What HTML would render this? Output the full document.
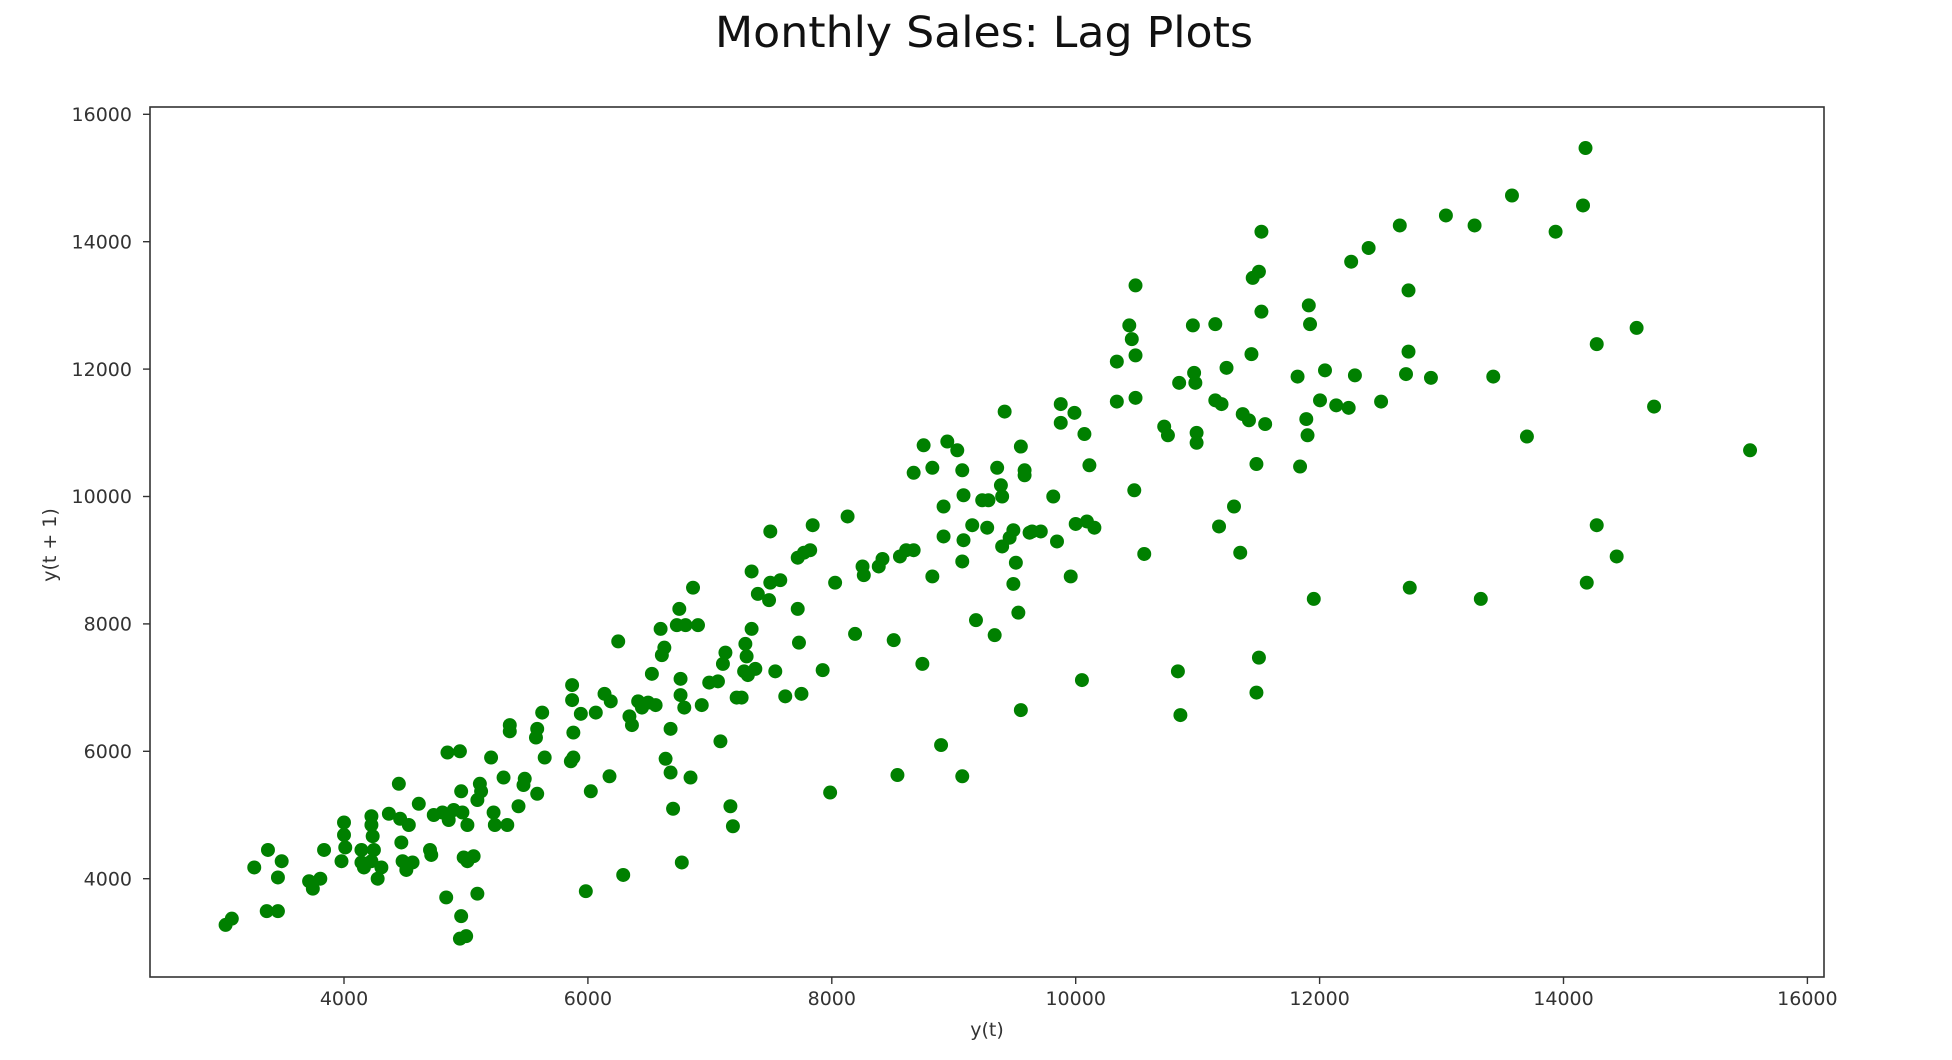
<!DOCTYPE html>
<html><head><meta charset="utf-8"><style>
html,body{margin:0;padding:0;background:#fff;}
svg{display:block;font-family:"DejaVu Sans","Liberation Sans",sans-serif;}
</style></head><body>
<svg width="1952" height="1060" viewBox="0 0 1952 1060" xmlns="http://www.w3.org/2000/svg">
<text x="984" y="47" font-size="43" text-anchor="middle" fill="#111" textLength="538" lengthAdjust="spacingAndGlyphs">Monthly Sales: Lag Plots</text>
<g transform="translate(344,878.7) scale(1.2465,1.249) translate(-276,-703)" fill="#008000">
<circle cx="181" cy="740" r="5.6"/><circle cx="186" cy="735" r="5.6"/><circle cx="204" cy="694" r="5.6"/><circle cx="215" cy="680" r="5.6"/><circle cx="226" cy="689" r="5.6"/><circle cx="223" cy="702" r="5.6"/><circle cx="214" cy="729" r="5.6"/><circle cx="223" cy="729" r="5.6"/><circle cx="248" cy="705" r="5.6"/><circle cx="251" cy="711" r="5.6"/><circle cx="257" cy="703" r="5.6"/><circle cx="260" cy="680" r="5.6"/><circle cx="276" cy="658" r="5.6"/><circle cx="276" cy="668" r="5.6"/><circle cx="277" cy="678" r="5.6"/><circle cx="274" cy="689" r="5.6"/><circle cx="290" cy="680" r="5.6"/><circle cx="290" cy="690" r="5.6"/><circle cx="292" cy="694" r="5.6"/><circle cx="298" cy="653" r="5.6"/><circle cx="298" cy="660" r="5.6"/><circle cx="299" cy="669" r="5.6"/><circle cx="303" cy="703" r="5.6"/><circle cx="306" cy="694" r="5.6"/><circle cx="298" cy="689" r="5.6"/><circle cx="300" cy="680" r="5.6"/><circle cx="312" cy="651" r="5.6"/><circle cx="320" cy="627" r="5.6"/><circle cx="321" cy="655" r="5.6"/><circle cx="322" cy="674" r="5.6"/><circle cx="323" cy="689" r="5.6"/><circle cx="326" cy="696" r="5.6"/><circle cx="331" cy="690" r="5.6"/><circle cx="328" cy="660" r="5.6"/><circle cx="336" cy="643" r="5.6"/><circle cx="345" cy="680" r="5.6"/><circle cx="346" cy="684" r="5.6"/><circle cx="348" cy="652" r="5.6"/><circle cx="355" cy="650" r="5.6"/><circle cx="359" cy="602" r="5.6"/><circle cx="360" cy="656" r="5.6"/><circle cx="364" cy="648" r="5.6"/><circle cx="369" cy="601" r="5.6"/><circle cx="370" cy="633" r="5.6"/><circle cx="371" cy="650" r="5.6"/><circle cx="375" cy="660" r="5.6"/><circle cx="375" cy="689" r="5.6"/><circle cx="372" cy="686" r="5.6"/><circle cx="380" cy="685" r="5.6"/><circle cx="383" cy="640" r="5.6"/><circle cx="385" cy="627" r="5.6"/><circle cx="386" cy="633" r="5.6"/><circle cx="394" cy="606" r="5.6"/><circle cx="396" cy="650" r="5.6"/><circle cx="397" cy="660" r="5.6"/><circle cx="404" cy="622" r="5.6"/><circle cx="407" cy="660" r="5.6"/><circle cx="409" cy="580" r="5.6"/><circle cx="409" cy="585" r="5.6"/><circle cx="416" cy="645" r="5.6"/><circle cx="420" cy="628" r="5.6"/><circle cx="421" cy="623" r="5.6"/><circle cx="430" cy="590" r="5.6"/><circle cx="431" cy="583" r="5.6"/><circle cx="431" cy="635" r="5.6"/><circle cx="435" cy="570" r="5.6"/><circle cx="437" cy="606" r="5.6"/><circle cx="358" cy="718" r="5.6"/><circle cx="370" cy="733" r="5.6"/><circle cx="369" cy="751" r="5.6"/><circle cx="374" cy="749" r="5.6"/><circle cx="383" cy="715" r="5.6"/><circle cx="459" cy="548" r="5.6"/><circle cx="459" cy="560" r="5.6"/><circle cx="460" cy="586" r="5.6"/><circle cx="458" cy="609" r="5.6"/><circle cx="460" cy="606" r="5.6"/><circle cx="466" cy="571" r="5.6"/><circle cx="470" cy="713" r="5.6"/><circle cx="474" cy="633" r="5.6"/><circle cx="478" cy="570" r="5.6"/><circle cx="485" cy="555" r="5.6"/><circle cx="490" cy="561" r="5.6"/><circle cx="489" cy="621" r="5.6"/><circle cx="496" cy="513" r="5.6"/><circle cx="500" cy="700" r="5.6"/><circle cx="505" cy="573" r="5.6"/><circle cx="507" cy="580" r="5.6"/><circle cx="512" cy="561" r="5.6"/><circle cx="515" cy="566" r="5.6"/><circle cx="520" cy="562" r="5.6"/><circle cx="523" cy="539" r="5.6"/><circle cx="526" cy="564" r="5.6"/><circle cx="530" cy="503" r="5.6"/><circle cx="531" cy="524" r="5.6"/><circle cx="533" cy="518" r="5.6"/><circle cx="534" cy="607" r="5.6"/><circle cx="538" cy="583" r="5.6"/><circle cx="538" cy="618" r="5.6"/><circle cx="540" cy="647" r="5.6"/><circle cx="543" cy="500" r="5.6"/><circle cx="545" cy="487" r="5.6"/><circle cx="546" cy="556" r="5.6"/><circle cx="546" cy="543" r="5.6"/><circle cx="547" cy="690" r="5.6"/><circle cx="549" cy="566" r="5.6"/><circle cx="550" cy="500" r="5.6"/><circle cx="554" cy="622" r="5.6"/><circle cx="556" cy="470" r="5.6"/><circle cx="560" cy="500" r="5.6"/><circle cx="563" cy="564" r="5.6"/><circle cx="569" cy="546" r="5.6"/><circle cx="576" cy="545" r="5.6"/><circle cx="578" cy="593" r="5.6"/><circle cx="580" cy="531" r="5.6"/><circle cx="582" cy="522" r="5.6"/><circle cx="586" cy="645" r="5.6"/><circle cx="588" cy="661" r="5.6"/><circle cx="591" cy="558" r="5.6"/><circle cx="595" cy="558" r="5.6"/><circle cx="597" cy="537" r="5.6"/><circle cx="598" cy="515" r="5.6"/><circle cx="599" cy="525" r="5.6"/><circle cx="600" cy="540" r="5.6"/><circle cx="603" cy="503" r="5.6"/><circle cx="603" cy="457" r="5.6"/><circle cx="606" cy="535" r="5.6"/><circle cx="608" cy="475" r="5.6"/><circle cx="617" cy="480" r="5.6"/><circle cx="618" cy="466" r="5.6"/><circle cx="618" cy="425" r="5.6"/><circle cx="622" cy="537" r="5.6"/><circle cx="626" cy="464" r="5.6"/><circle cx="630" cy="557" r="5.6"/><circle cx="640" cy="446" r="5.6"/><circle cx="640" cy="487" r="5.6"/><circle cx="641" cy="514" r="5.6"/><circle cx="643" cy="555" r="5.6"/><circle cx="645" cy="442" r="5.6"/><circle cx="650" cy="440" r="5.6"/><circle cx="652" cy="420" r="5.6"/><circle cx="660" cy="536" r="5.6"/><circle cx="666" cy="634" r="5.6"/><circle cx="670" cy="466" r="5.6"/><circle cx="680" cy="413" r="5.6"/><circle cx="686" cy="507" r="5.6"/><circle cx="692" cy="453" r="5.6"/><circle cx="693" cy="460" r="5.6"/><circle cx="705" cy="453" r="5.6"/><circle cx="708" cy="447" r="5.6"/><circle cx="717" cy="512" r="5.6"/><circle cx="720" cy="620" r="5.6"/><circle cx="722" cy="445" r="5.6"/><circle cx="727" cy="440" r="5.6"/><circle cx="733" cy="440" r="5.6"/><circle cx="733" cy="378" r="5.6"/><circle cx="740" cy="531" r="5.6"/><circle cx="741" cy="356" r="5.6"/><circle cx="748" cy="374" r="5.6"/><circle cx="748" cy="461" r="5.6"/><circle cx="755" cy="596" r="5.6"/><circle cx="757" cy="405" r="5.6"/><circle cx="757" cy="429" r="5.6"/><circle cx="760" cy="353" r="5.6"/><circle cx="768" cy="360" r="5.6"/><circle cx="772" cy="376" r="5.6"/><circle cx="772" cy="621" r="5.6"/><circle cx="772" cy="449" r="5.6"/><circle cx="773" cy="432" r="5.6"/><circle cx="773" cy="396" r="5.6"/><circle cx="780" cy="420" r="5.6"/><circle cx="783" cy="496" r="5.6"/><circle cx="788" cy="400" r="5.6"/><circle cx="792" cy="422" r="5.6"/><circle cx="793" cy="400" r="5.6"/><circle cx="798" cy="508" r="5.6"/><circle cx="800" cy="374" r="5.6"/><circle cx="803" cy="388" r="5.6"/><circle cx="804" cy="397" r="5.6"/><circle cx="804" cy="437" r="5.6"/><circle cx="806" cy="329" r="5.6"/><circle cx="810" cy="430" r="5.6"/><circle cx="813" cy="424" r="5.6"/><circle cx="813" cy="467" r="5.6"/><circle cx="815" cy="450" r="5.6"/><circle cx="817" cy="490" r="5.6"/><circle cx="819" cy="357" r="5.6"/><circle cx="819" cy="568" r="5.6"/><circle cx="822" cy="376" r="5.6"/><circle cx="822" cy="380" r="5.6"/><circle cx="828" cy="425" r="5.6"/><circle cx="826" cy="426" r="5.6"/><circle cx="835" cy="425" r="5.6"/><circle cx="845" cy="397" r="5.6"/><circle cx="848" cy="433" r="5.6"/><circle cx="851" cy="323" r="5.6"/><circle cx="851" cy="338" r="5.6"/><circle cx="859" cy="461" r="5.6"/><circle cx="862" cy="330" r="5.6"/><circle cx="863" cy="419" r="5.6"/><circle cx="868" cy="544" r="5.6"/><circle cx="870" cy="347" r="5.6"/><circle cx="872" cy="417" r="5.6"/><circle cx="874" cy="372" r="5.6"/><circle cx="878" cy="422" r="5.6"/><circle cx="896" cy="289" r="5.6"/><circle cx="896" cy="321" r="5.6"/><circle cx="906" cy="260" r="5.6"/><circle cx="908" cy="271" r="5.6"/><circle cx="910" cy="392" r="5.6"/><circle cx="911" cy="284" r="5.6"/><circle cx="911" cy="318" r="5.6"/><circle cx="911" cy="228" r="5.6"/><circle cx="918" cy="443" r="5.6"/><circle cx="934" cy="341" r="5.6"/><circle cx="937" cy="348" r="5.6"/><circle cx="945" cy="537" r="5.6"/><circle cx="947" cy="572" r="5.6"/><circle cx="946" cy="306" r="5.6"/><circle cx="957" cy="260" r="5.6"/><circle cx="958" cy="298" r="5.6"/><circle cx="959" cy="306" r="5.6"/><circle cx="960" cy="346" r="5.6"/><circle cx="960" cy="354" r="5.6"/><circle cx="975" cy="259" r="5.6"/><circle cx="975" cy="320" r="5.6"/><circle cx="978" cy="421" r="5.6"/><circle cx="980" cy="323" r="5.6"/><circle cx="984" cy="294" r="5.6"/><circle cx="990" cy="405" r="5.6"/><circle cx="995" cy="442" r="5.6"/><circle cx="997" cy="331" r="5.6"/><circle cx="1002" cy="336" r="5.6"/><circle cx="1004" cy="283" r="5.6"/><circle cx="1005" cy="222" r="5.6"/><circle cx="1008" cy="371" r="5.6"/><circle cx="1010" cy="217" r="5.6"/><circle cx="1008" cy="554" r="5.6"/><circle cx="1010" cy="526" r="5.6"/><circle cx="1012" cy="249" r="5.6"/><circle cx="1012" cy="185" r="5.6"/><circle cx="1015" cy="339" r="5.6"/><circle cx="1041" cy="301" r="5.6"/><circle cx="1043" cy="373" r="5.6"/><circle cx="1048" cy="335" r="5.6"/><circle cx="1049" cy="348" r="5.6"/><circle cx="1050" cy="244" r="5.6"/><circle cx="1051" cy="259" r="5.6"/><circle cx="1054" cy="479" r="5.6"/><circle cx="1059" cy="320" r="5.6"/><circle cx="1063" cy="296" r="5.6"/><circle cx="1072" cy="324" r="5.6"/><circle cx="1082" cy="326" r="5.6"/><circle cx="1084" cy="209" r="5.6"/><circle cx="1087" cy="300" r="5.6"/><circle cx="1098" cy="198" r="5.6"/><circle cx="1108" cy="321" r="5.6"/><circle cx="1123" cy="180" r="5.6"/><circle cx="1128" cy="299" r="5.6"/><circle cx="1130" cy="281" r="5.6"/><circle cx="1130" cy="232" r="5.6"/><circle cx="1131" cy="470" r="5.6"/><circle cx="1148" cy="302" r="5.6"/><circle cx="1160" cy="172" r="5.6"/><circle cx="1183" cy="180" r="5.6"/><circle cx="1188" cy="479" r="5.6"/><circle cx="1198" cy="301" r="5.6"/><circle cx="1213" cy="156" r="5.6"/><circle cx="1225" cy="349" r="5.6"/><circle cx="1248" cy="185" r="5.6"/><circle cx="1270" cy="164" r="5.6"/><circle cx="1272" cy="118" r="5.6"/><circle cx="1273" cy="466" r="5.6"/><circle cx="1281" cy="420" r="5.6"/><circle cx="1281" cy="275" r="5.6"/><circle cx="1297" cy="445" r="5.6"/><circle cx="1313" cy="262" r="5.6"/><circle cx="1327" cy="325" r="5.6"/><circle cx="1404" cy="360" r="5.6"/>
</g>
<rect x="150" y="107" width="1674" height="870" fill="none" stroke="#333" stroke-width="1.6"/>
<g stroke="#333" stroke-width="1.4">
<line x1="344" y1="977" x2="344" y2="984"/><line x1="587.9" y1="977" x2="587.9" y2="984"/><line x1="831.8" y1="977" x2="831.8" y2="984"/><line x1="1075.7" y1="977" x2="1075.7" y2="984"/><line x1="1319.6" y1="977" x2="1319.6" y2="984"/><line x1="1563.5" y1="977" x2="1563.5" y2="984"/><line x1="1807.4" y1="977" x2="1807.4" y2="984"/>
<line x1="143" y1="114.3" x2="150" y2="114.3"/><line x1="143" y1="241.7" x2="150" y2="241.7"/><line x1="143" y1="369.1" x2="150" y2="369.1"/><line x1="143" y1="496.5" x2="150" y2="496.5"/><line x1="143" y1="623.9" x2="150" y2="623.9"/><line x1="143" y1="751.3" x2="150" y2="751.3"/><line x1="143" y1="878.7" x2="150" y2="878.7"/>
</g>
<g font-size="19" fill="#333" text-anchor="middle">
<text x="344" y="1005">4000</text><text x="587.9" y="1005">6000</text><text x="831.8" y="1005">8000</text><text x="1075.7" y="1005">10000</text><text x="1319.6" y="1005">12000</text><text x="1563.5" y="1005">14000</text><text x="1807.4" y="1005">16000</text>
</g>
<g font-size="19" fill="#333" text-anchor="end">
<text x="132" y="121">16000</text><text x="132" y="248.4">14000</text><text x="132" y="375.8">12000</text><text x="132" y="503.2">10000</text><text x="132" y="630.6">8000</text><text x="132" y="758">6000</text><text x="132" y="885.4">4000</text>
</g>
<text x="987" y="1036" font-size="19" fill="#333" text-anchor="middle">y(t)</text>
<text transform="translate(56,545) rotate(-90)" font-size="19" fill="#333" text-anchor="middle">y(t + 1)</text>
</svg>
</body></html>
